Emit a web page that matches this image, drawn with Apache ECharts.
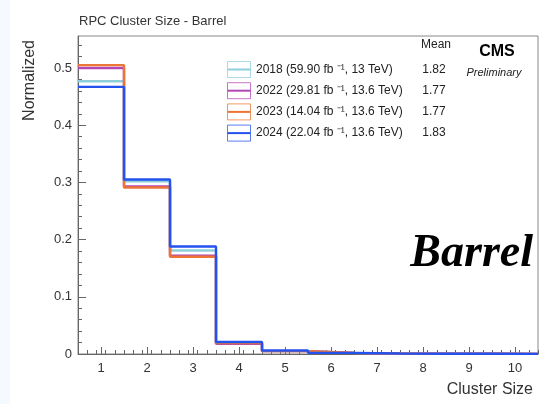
<!DOCTYPE html>
<html>
<head>
<meta charset="utf-8">
<script src="https://cdn.jsdelivr.net/npm/echarts@6/dist/echarts.min.js"></script>
<style>
  html, body { margin: 0; padding: 0; background: #fff; }
  #main { width: 548px; height: 404px; }
</style>
</head>
<body>
<div id="main"></div>
<script>
// cluster size bins (bin centres)
var clusterSize = [1, 2, 3, 4, 5, 6, 7, 8, 9, 10];

// normalized fractions per year
var y2018 = [0.477, 0.302, 0.181, 0.020, 0.005, 0.002, 0.001, 0.0005, 0.0004, 0.0003];
var y2022 = [0.500, 0.293, 0.172, 0.018, 0.005, 0.002, 0.001, 0.0005, 0.0004, 0.0003];
var y2023 = [0.505, 0.291, 0.170, 0.019, 0.005, 0.002, 0.001, 0.0005, 0.0004, 0.0003];
var y2024 = [0.467, 0.305, 0.188, 0.021, 0.006, 0.002, 0.001, 0.0005, 0.0004, 0.0003];

var seriesNames = ['2018', '2022', '2023', '2024'];
var legendLabels = [
  '2018 (59.90 fb \u207B\u00B9, 13 TeV)',
  '2022 (29.81 fb \u207B\u00B9, 13.6 TeV)',
  '2023 (14.04 fb \u207B\u00B9, 13.6 TeV)',
  '2024 (22.04 fb \u207B\u00B9, 13.6 TeV)'
];
var means = ['1.82', '1.77', '1.77', '1.83'];
var colors = ['#8fcfdc', '#b347b5', '#ec7434', '#2452ee'];
var allData = [y2018, y2022, y2023, y2024];

var yTicks = [0, 0.1, 0.2, 0.3, 0.4, 0.5];

// histogram steps: left edges, then closing right edge
function steps(vals) {
  var pts = [];
  for (var i = 0; i < vals.length; i++) {
    pts.push([clusterSize[i] - 0.5, vals[i]]);
  }
  pts.push([clusterSize[clusterSize.length - 1] + 0.5, vals[vals.length - 1]]);
  return pts;
}

var minorX = [];
for (var k = 0; k <= 50; k++) {
  var v = Math.round((0.5 + k * 0.2) * 10) / 10;
  if (v > 10.5) break;
  if (clusterSize.indexOf(v) < 0) minorX.push(v);
}

var myChart = echarts.init(document.getElementById('main'));

var series = [];
for (var i = 0; i < seriesNames.length; i++) {
  series.push({
    name: seriesNames[i],
    type: 'line',
    step: 'end',
    data: steps(allData[i]),
    showSymbol: false,
    lineStyle: { color: colors[i], width: 2.4 },
    itemStyle: { color: colors[i] },
    z: 2 + i,
    silent: true
  });
}

// legend drawn as ROOT style boxes
var graphic = [
  { type: 'rect', shape: { x: 0, y: 0, width: 10, height: 404 }, style: { fill: '#f4faff' }, silent: true }
];
var legTop = 61.5, legStep = 21.2;
for (var j = 0; j < seriesNames.length; j++) {
  var yy = legTop + j * legStep;
  graphic.push({
    type: 'rect', shape: { x: 227.5, y: yy, width: 23, height: 16 },
    style: { fill: 'none', stroke: colors[j], lineWidth: 1, opacity: 0.75 }
  });
  graphic.push({
    type: 'line', shape: { x1: 227.5, y1: yy + 8, x2: 250.5, y2: yy + 8 },
    style: { stroke: colors[j], lineWidth: 2 }
  });
  graphic.push({
    type: 'text', x: 256, y: yy + 2,
    style: { text: legendLabels[j], font: '12px "Liberation Sans", Arial, sans-serif', fill: '#222' }
  });
  graphic.push({
    type: 'text', x: 434, y: yy + 2,
    style: { text: means[j], font: '12px "Liberation Sans", Arial, sans-serif', fill: '#222', align: 'center' }
  });
}
graphic.push(
  { type: 'text', x: 436, y: 39, style: { text: 'Mean', font: '12px "Liberation Sans", Arial, sans-serif', fill: '#222', align: 'center' } },
  { type: 'text', x: 497, y: 44, style: { text: 'CMS', font: 'bold 16px "Liberation Sans", Arial, sans-serif', fill: '#000', align: 'center' } },
  { type: 'text', x: 494, y: 67, style: { text: 'Preliminary', font: 'italic 11px "Liberation Sans", Arial, sans-serif', fill: '#222', align: 'center' } },
  { type: 'text', x: 533, y: 231, style: { text: 'Barrel', font: 'bold italic 46px "Liberation Serif", "Times New Roman", serif', fill: '#000', align: 'right' } }
);

var option = {
  backgroundColor: '#fff',
  animation: false,
  title: {
    text: 'RPC Cluster Size - Barrel',
    left: 74, top: 10,
    textStyle: { fontSize: 13, fontWeight: 'normal', color: '#333', fontFamily: '"Liberation Sans", Arial, sans-serif' }
  },
  grid: {
    left: 78, right: 10, top: 36, bottom: 50,
    show: true, borderColor: '#888', borderWidth: 1, backgroundColor: '#fff'
  },
  xAxis: [
    {
      type: 'value', min: 0.5, max: 10.5,
      name: 'Cluster Size', nameLocation: 'end',
      nameGap: 0,
      nameTextStyle: { fontSize: 16, color: '#333', align: 'right', verticalAlign: 'top', padding: [28, 5, 0, 0], fontFamily: '"Liberation Sans", Arial, sans-serif' },
      axisLine: { show: true, onZero: false, lineStyle: { color: '#666' } },
      axisTick: { show: true, inside: true, length: 7, customValues: clusterSize, lineStyle: { color: '#666' } },
      axisLabel: { customValues: clusterSize, fontSize: 13, color: '#333', margin: 8, fontFamily: '"Liberation Sans", Arial, sans-serif' },
      splitLine: { show: false }
    },
    {
      type: 'value', min: 0.5, max: 10.5, position: 'bottom',
      axisLine: { show: false },
      axisTick: { show: true, inside: true, length: 4, customValues: minorX, lineStyle: { color: '#666' } },
      axisLabel: { show: false },
      splitLine: { show: false }
    }
  ],
  yAxis: {
    type: 'value', min: 0, max: 0.556,
    name: 'Normalized', nameLocation: 'end', nameRotate: 90,
    nameGap: 0,
    nameTextStyle: { fontSize: 16, color: '#333', align: 'right', verticalAlign: 'bottom', padding: [0, 4, 40, 0], fontFamily: '"Liberation Sans", Arial, sans-serif' },
    axisLine: { show: true, lineStyle: { color: '#666' } },
    axisTick: { show: true, inside: true, length: 8, customValues: yTicks, lineStyle: { color: '#666' } },
    minorTick: { show: true, splitNumber: 5, length: 4, lineStyle: { color: '#666' } },
    axisLabel: { customValues: yTicks, fontSize: 13, color: '#333', margin: 6, fontFamily: '"Liberation Sans", Arial, sans-serif' },
    splitLine: { show: false },
    minorSplitLine: { show: false }
  },
  graphic: graphic,
  series: series
};

myChart.setOption(option);
</script>
</body>
</html>
